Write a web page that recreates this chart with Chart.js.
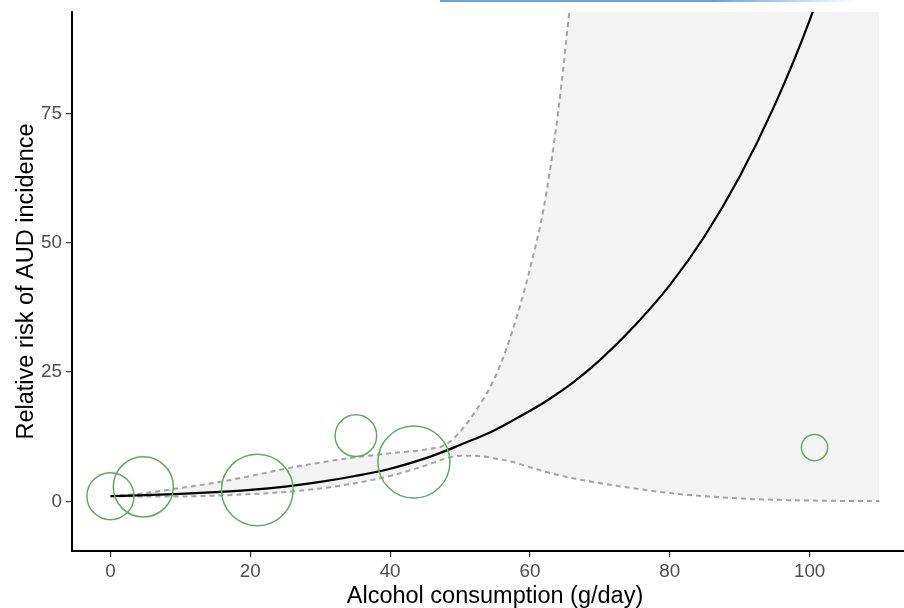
<!DOCTYPE html>
<html>
<head>
<meta charset="utf-8">
<script src="https://cdn.jsdelivr.net/npm/chart.js@4/dist/chart.umd.min.js"></script>
<style>
  html, body { margin: 0; padding: 0; background: #ffffff; overflow: hidden; }
  #wrap { position: relative; width: 904px; height: 608px; overflow: hidden; }
  #c { position: absolute; left: 0; top: 0; }
  #topbar { position: absolute; left: 440px; top: 0; width: 420px; height: 2px;
    background: linear-gradient(to right, #6ea2dc 0%, #6ea2dc 65%, rgba(110,162,220,0) 100%); }
</style>
</head>
<body>
<div id="wrap">
  <canvas id="c" width="918" height="608"></canvas>
  <div id="topbar"></div>
</div>
<script>
// Dose grid (g/day) on which the fitted curve and its confidence limits are given
const doseGrid = [0, 5, 10, 15, 20, 25, 30, 35, 40, 45, 48, 50, 52, 55, 57.5, 60, 62, 64, 66, 70, 75, 80, 85, 90, 95, 100, 105, 110];

// Pooled dose-response estimate (relative risk)
const rrFit = [1.0, 1.2, 1.45, 1.78, 2.2, 2.85, 3.75, 4.9, 6.3, 8.3, 9.8, 10.9, 12.0, 13.8, 15.6, 17.5, 19.1, 20.9, 22.8, 27.3, 34.0, 41.8, 51.3, 62.8, 76.6, 93.0, 113, 137];

// Lower and upper 95% confidence limits
const rrLower = [1.0, 0.95, 0.95, 1.1, 1.4, 1.8, 2.5, 3.5, 4.9, 6.9, 8.3, 8.8, 8.8, 8.3, 7.6, 6.6, 5.8, 5.1, 4.5, 3.5, 2.5, 1.6, 1.0, 0.55, 0.3, 0.15, 0.08, 0.05];
const rrUpper = [1.0, 1.6, 2.6, 3.6, 4.9, 6.3, 7.5, 8.5, 9.3, 10.0, 11.0, 13.5, 17.0, 24.0, 33.0, 45.0, 57.0, 75.0, 100, 160, 280, 480, 800, 1300, 2100, 3400, 5400, 8500];

// Individual study estimates and their relative weights (%)
const studyDose   = [0, 4.7, 21.0, 35.1, 43.4, 100.7];
const studyRR     = [1.0, 2.8, 2.2, 12.7, 7.6, 10.4];
const studyWeight = [11.9, 19.4, 27.6, 9.3, 27.9, 3.7];

const xTicks = [0, 20, 40, 60, 80, 100];
const yTicks = [0, 25, 50, 75];

const FONT = "'Liberation Sans', Arial, Helvetica, sans-serif";
Chart.defaults.font.family = FONT;

const toPoints = ys => doseGrid.map((x, i) => ({ x: x, y: ys[i] }));
// circle area proportional to study weight
const bubbleRadius = w => 6.82 * Math.sqrt(w);

const axisGrid = { display: true, drawOnChartArea: false, drawTicks: true, tickLength: 6, color: '#333333', lineWidth: 1.2 };
const axisBorder = { display: true, color: '#000000', width: 2 };

new Chart(document.getElementById('c'), {
  type: 'line',
  data: {
    datasets: [
      {
        label: 'Upper limit',
        data: toPoints(rrUpper),
        borderColor: '#a4a4a4',
        borderWidth: 2,
        borderDash: [5, 4],
        backgroundColor: '#f3f3f3',
        fill: '+1',
        pointRadius: 0,
        cubicInterpolationMode: 'monotone',
        order: 3
      },
      {
        label: 'Lower limit',
        data: toPoints(rrLower),
        borderColor: '#a4a4a4',
        borderWidth: 2,
        borderDash: [5, 4],
        fill: false,
        pointRadius: 0,
        cubicInterpolationMode: 'monotone',
        order: 2
      },
      {
        label: 'Relative risk',
        data: toPoints(rrFit),
        borderColor: '#000000',
        borderWidth: 2.2,
        fill: false,
        pointRadius: 0,
        cubicInterpolationMode: 'monotone',
        order: 1
      },
      {
        type: 'bubble',
        label: 'Studies',
        data: studyDose.map((x, i) => ({ x: x, y: studyRR[i], r: bubbleRadius(studyWeight[i]) })),
        backgroundColor: 'rgba(0,0,0,0)',
        borderColor: '#66a866',
        borderWidth: 1.5,
        order: 0
      }
    ]
  },
  options: {
    responsive: false,
    animation: false,
    events: [],
    layout: { autoPadding: false, padding: { top: 12, left: 0, right: 0, bottom: 0 } },
    plugins: { legend: { display: false }, tooltip: { enabled: false } },
    scales: {
      x: {
        type: 'linear',
        min: -5.5,
        max: 115.5,
        afterBuildTicks: s => { s.ticks = xTicks.map(v => ({ value: v })); },
        afterFit: s => { s.height = 57; s.paddingLeft = 0; s.paddingRight = 0; },
        grid: axisGrid,
        border: axisBorder,
        ticks: { color: '#4d4d4d', font: { size: 18.8 }, padding: 4, maxRotation: 0 },
        title: {
          display: true,
          text: 'Alcohol consumption (g/day)',
          color: '#000000',
          font: { size: 23.5, lineHeight: 1 },
          padding: { top: 0, bottom: 0 }
        }
      },
      y: {
        type: 'linear',
        min: -9.6,
        max: 94.6,
        afterBuildTicks: s => { s.ticks = yTicks.map(v => ({ value: v })); },
        afterFit: s => { s.width = 72; s.paddingTop = 0; s.paddingBottom = 0; },
        grid: axisGrid,
        border: axisBorder,
        ticks: { color: '#4d4d4d', font: { size: 18.8 }, padding: 4 },
        title: {
          display: true,
          text: 'Relative risk of AUD incidence',
          color: '#000000',
          font: { size: 23.5, lineHeight: 1 },
          padding: { top: 15, bottom: 0 }
        }
      }
    }
  }
});
</script>
</body>
</html>
